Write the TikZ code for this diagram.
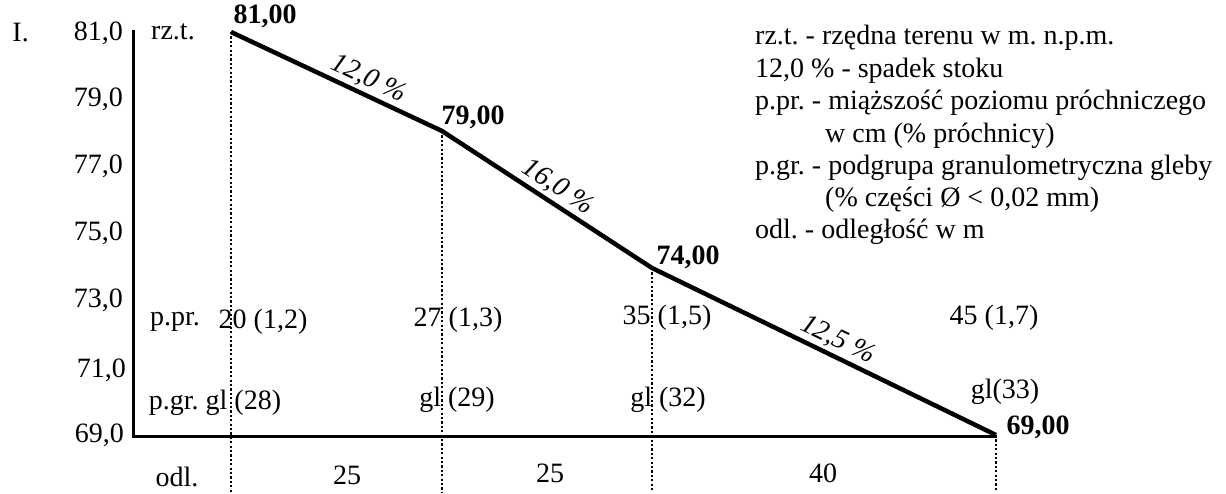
\documentclass[tikz,border=0pt]{standalone}
\usepackage{fontspec}
\setmainfont{Liberation Serif}
\frenchspacing
\begin{document}
\begin{tikzpicture}[x=1pt,y=-1pt,
  txt/.style={inner sep=0pt,font=\fontsize{28}{32}\selectfont},
  bold/.style={txt,font=\fontsize{28}{32}\selectfont\bfseries},
  slope/.style={inner sep=2.5pt,font=\fontsize{28}{32}\selectfont\itshape,sloped,anchor=south},
  profile/.style={line width=4.5pt,line join=round},
  axis/.style={line width=3pt},
  guide/.style={line width=1.6pt,dash pattern=on 2.2pt off 2.2pt}]
\useasboundingbox (0,0) rectangle (1226,494);
% axis
\coordinate (atop) at (133,30);
\coordinate (aorig) at (133,436);
\coordinate (aend) at (997,436);
\draw[axis] (atop) -- (aorig) -- (aend);
% profile points
\coordinate (p1) at (231,32);
\coordinate (p2) at (442,131);
\coordinate (p3) at (652,268);
\coordinate (p4) at (996,435);
\coordinate (b1) at (231,492);
\coordinate (b2) at (442,492);
\coordinate (b3) at (652,492);
\coordinate (b4) at (996,492);
\draw[guide] (p1) -- (b1);
\draw[guide] (p2) -- (b2);
\draw[guide] (p3) -- (b3);
\draw[guide] (p4) -- (b4);
\draw[profile] (p1) -- node[slope,pos=0.62] (s1) {12,0 \%}
               (p2) -- node[slope,pos=0.51] (s2) {16,0 \%}
               (p3) -- node[slope,pos=0.52] (s3) {12,5 \%} (p4);
% y labels
\node[txt,anchor=east] (roman) at (29,33) {I.};
\node[txt,anchor=east] (y81) at (123,33) {81,0};
\node[txt,anchor=east] (y79) at (123,99) {79,0};
\node[txt,anchor=east] (y77) at (123,166) {77,0};
\node[txt,anchor=east] (y75) at (123,233) {75,0};
\node[txt,anchor=east] (y73) at (123,300) {73,0};
\node[txt,anchor=east] (y71) at (126,370) {71,0};
\node[txt,anchor=east] (y69) at (124,435) {69,0};
\node[txt] (rzt) at (173,32) {rz.t.};
% heights
\node[bold] (h1) at (265,16) {81,00};
\node[bold] (h2) at (473,117) {79,00};
\node[bold] (h3) at (688,257) {74,00};
\node[bold] (h4) at (1038,427) {69,00};
% p.pr. row
\node[txt] (ppr) at (175,322) {p.pr.};
\node[txt] (pp1) at (263,322) {20 (1,2)};
\node[txt] (pp2) at (458,320) {27 (1,3)};
\node[txt] (pp3) at (667,318) {35 (1,5)};
\node[txt] (pp4) at (994,318) {45 (1,7)};
% p.gr. row
\node[txt] (pgr) at (215,403) {p.gr. gl (28)};
\node[txt] (pg2) at (457,400) {gl (29)};
\node[txt] (pg3) at (668,400) {gl (32)};
\node[txt] (pg4) at (1005,392) {gl(33)};
% odl row
\node[txt] (odl) at (177,477) {odl.};
\node[txt] (d1) at (347,475) {25};
\node[txt] (d2) at (550,473) {25};
\node[txt] (d3) at (823,473) {40};
% legend
\node[txt,anchor=west] (l1) at (755,38) {rz.t. - rzędna terenu w m. n.p.m.};
\node[txt,anchor=west] (l2) at (755,71) {12,0 \% - spadek stoku};
\node[txt,anchor=west] (l3) at (755,103) {p.pr. - miąższość poziomu próchniczego};
\node[txt,anchor=west] (l4) at (825,136) {w cm (\% próchnicy)};
\node[txt,anchor=west] (l5) at (755,168) {p.gr. - podgrupa granulometryczna gleby};
\node[txt,anchor=west] (l6) at (825,200) {(\% części Ø < 0,02 mm)};
\node[txt,anchor=west] (l7) at (755,232) {odl. - odległość w m};
\end{tikzpicture}
\end{document}
